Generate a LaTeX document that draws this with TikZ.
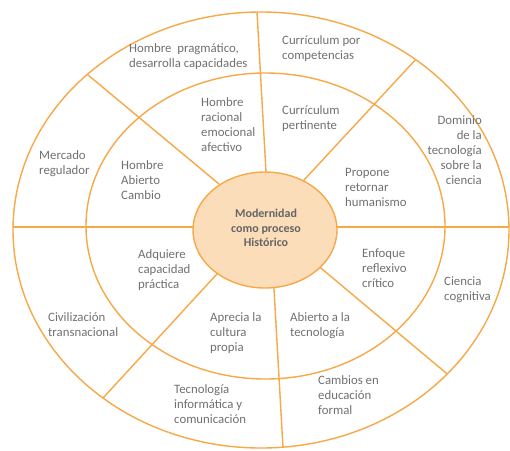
\documentclass[tikz,border=0pt]{standalone}
\usepackage{fontspec}
\setmainfont{Carlito}
\usetikzlibrary{calc}
\definecolor{lineor}{HTML}{F7A847}
\definecolor{fillor}{HTML}{FCDDB9}
\definecolor{txtgray}{HTML}{707070}
\begin{document}
\begin{tikzpicture}[x=1pt,y=-1pt,
  ring/.style={draw=lineor,line width=1.4pt},
  lbl/.style={inner sep=0pt,anchor=north west,align=left,text=txtgray,font=\fontsize{12.8}{15}\selectfont},
  lblr/.style={lbl,anchor=north east,align=right},
  ctr/.style={inner sep=0pt,align=center,text=txtgray!90!black,font=\fontsize{12}{14.5}\selectfont\bfseries}]
\useasboundingbox (0,0) rectangle (510,450);
% spoke end points
\coordinate (i1) at (219,184); \coordinate (o1) at (88,75);
\coordinate (i2) at (266,172); \coordinate (o2) at (257,12);
\coordinate (i3) at (304,180); \coordinate (o3) at (418,57);
\coordinate (i4) at (337,227); \coordinate (o4) at (509,227);
\coordinate (i5) at (193,227); \coordinate (o5) at (13,227);
\coordinate (i6) at (322,269); \coordinate (o6) at (452,378);
\coordinate (i7) at (274,289); \coordinate (o7) at (283,448);
\coordinate (i8) at (216,275); \coordinate (o8) at (103,398);
\begin{scope}
  \clip (261,230) ellipse [x radius=248, y radius=218];
  \foreach \k in {1,...,8}{
    \draw[ring] ($(o\k)!1.3!(i\k)$) -- ($(i\k)!1.3!(o\k)$);
  }
\end{scope}
\draw[ring] (261,230) ellipse [x radius=248, y radius=218];
\draw[ring] (265.5,226) ellipse [x radius=179.5, y radius=153];
\draw[ring,fill=fillor] (265,230) ellipse [x radius=72, y radius=58];
\node[ctr] (center) at (266,228) {Modernidad\\como proceso\\Histórico};
% labels
\node[lbl] (t1) at (129,43) {Hombre\ \ pragmático,\\desarrolla capacidades};
\node[lbl] (t2) at (282,35) {Currículum por\\competencias};
\node[lbl] (t3) at (201,97) {Hombre\\racional\\emocional\\afectivo};
\node[lbl] (t4) at (282,105) {Currículum\\pertinente};
\node[lbl] (t5) at (39,150) {Mercado\\regulador};
\node[lbl] (t6) at (121,160) {Hombre\\Abierto\\Cambio};
\node[lblr] (t7) at (482,115) {Dominio\\de la\\tecnología\\sobre la\\ciencia};
\node[lbl] (t8) at (345,168) {Propone\\retornar\\humanismo};
\node[lbl] (t9) at (138,249) {Adquiere\\capacidad\\práctica};
\node[lbl] (t10) at (48,312) {Civilización\\transnacional};
\node[lbl] (t11) at (210,312) {Aprecia la\\cultura\\propia};
\node[lbl] (t12) at (174,384) {Tecnología\\informática y\\comunicación};
\node[lbl] (t13) at (362,249) {Enfoque\\reflexivo\\crítico};
\node[lbl] (t14) at (444,276) {Ciencia\\cognitiva};
\node[lbl] (t15) at (290,312) {Abierto a la\\tecnología};
\node[lbl] (t16) at (318,375) {Cambios en\\educación\\formal};
\end{tikzpicture}
\end{document}
